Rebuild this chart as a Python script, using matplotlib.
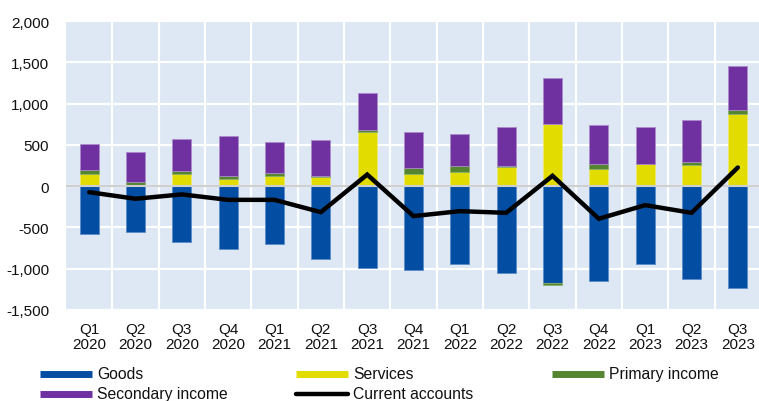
import numpy as np
import matplotlib.pyplot as plt
from matplotlib.lines import Line2D

plt.rcParams['font.family'] = ['Liberation Sans', 'DejaVu Sans']

quarters = ['Q1', 'Q2', 'Q3', 'Q4', 'Q1', 'Q2', 'Q3', 'Q4', 'Q1', 'Q2', 'Q3', 'Q4', 'Q1', 'Q2', 'Q3']
years = ['2020', '2020', '2020', '2020', '2021', '2021', '2021', '2021',
         '2022', '2022', '2022', '2022', '2023', '2023', '2023']

goods = [-585, -557, -678, -767, -698, -880, -989, -1021, -948, -1054, -1170, -1154, -948, -1121, -1235]
services = [142, 10, 142, 89, 121, 109, 658, 142, 170, 230, 748, 210, 263, 255, 876]
primary = [48, 40, 36, 32, 36, 10, 16, 80, 80, 12, -24, 57, 0, 40, 49]
secondary = [319, 362, 398, 481, 376, 438, 448, 428, 380, 476, 564, 476, 455, 508, 532]
current = [-73, -153, -100, -166, -166, -315, 140, -363, -303, -323, 125, -395, -230, -323, 226]

c_goods = '#034EA2'
c_serv = '#E2DC00'
c_prim = '#55852F'
c_sec = '#6F30A0'

W, H = 759, 402
fig = plt.figure(figsize=(W / 100, H / 100), dpi=100)
ax = fig.add_axes([66 / W, (H - 311) / H, (W - 66) / W, 289 / H])
ax.set_facecolor('#DDE8F4')

x = np.arange(len(quarters))
pos = np.zeros(len(x))
neg = np.zeros(len(x))
series = [(goods, c_goods, '#5B8CC8'), (services, c_serv, '#EEEA70'),
          (primary, c_prim, '#8AAE6C'), (secondary, c_sec, '#A98BC8')]
for vals, col, edge in series:
    v = np.array(vals, dtype=float)
    bottom = np.where(v >= 0, pos, neg)
    ax.bar(x, v, 0.41, bottom=bottom, color=col, edgecolor=edge, linewidth=0.6, zorder=3)
    pos = pos + np.where(v >= 0, v, 0)
    neg = neg + np.where(v < 0, v, 0)

ax.axhline(0, color='#CFCFCF', lw=1.5, zorder=4)
ax.plot(x, current, color='black', lw=3.2, zorder=5, solid_capstyle='round', solid_joinstyle='miter')

ax.set_ylim(-1500, 2000)
ax.set_xlim(-0.5, 14.5 - 2 / 46.3)
ax.set_yticks(np.arange(-1500, 2001, 500))
ax.set_yticklabels([f'{v:,}' for v in range(-1500, 2001, 500)])
ax.set_xticks(x)
ax.set_xticklabels([f'{q}\n{y}' for q, y in zip(quarters, years)], linespacing=1.05)
ax.set_xticks(x[:-1] + 0.5, minor=True)

ax.grid(axis='y', which='major', color='white', lw=1.6, zorder=1)
ax.grid(axis='x', which='minor', color='white', lw=1.6, zorder=1)
ax.set_axisbelow(True)
for s in ax.spines.values():
    s.set_visible(False)
ax.tick_params(axis='both', which='both', length=0, labelsize=11, colors='#111111')
ax.tick_params(axis='y', pad=12)
ax.tick_params(axis='x', pad=9)

# legend drawn by hand in pixel positions
legend = [
    (40, 375, 'Goods', c_goods, 5),
    (296, 375, 'Services', c_serv, 5),
    (552, 375, 'Primary income', c_prim, 5),
    (40, 395, 'Secondary income', c_sec, 5),
    (296, 395, 'Current accounts', 'black', 3.2),
]
for px, py, lab, col, lw in legend:
    yy = (H - py) / H
    fig.add_artist(Line2D([px / W, (px + 52) / W], [yy, yy], color=col, lw=lw,
                          solid_capstyle='round' if col == 'black' else 'butt'))
    fig.text((px + 57) / W, yy, lab, fontsize=11.3, va='center', ha='left', color='#111111')

fig.savefig('out.png', dpi=100)
